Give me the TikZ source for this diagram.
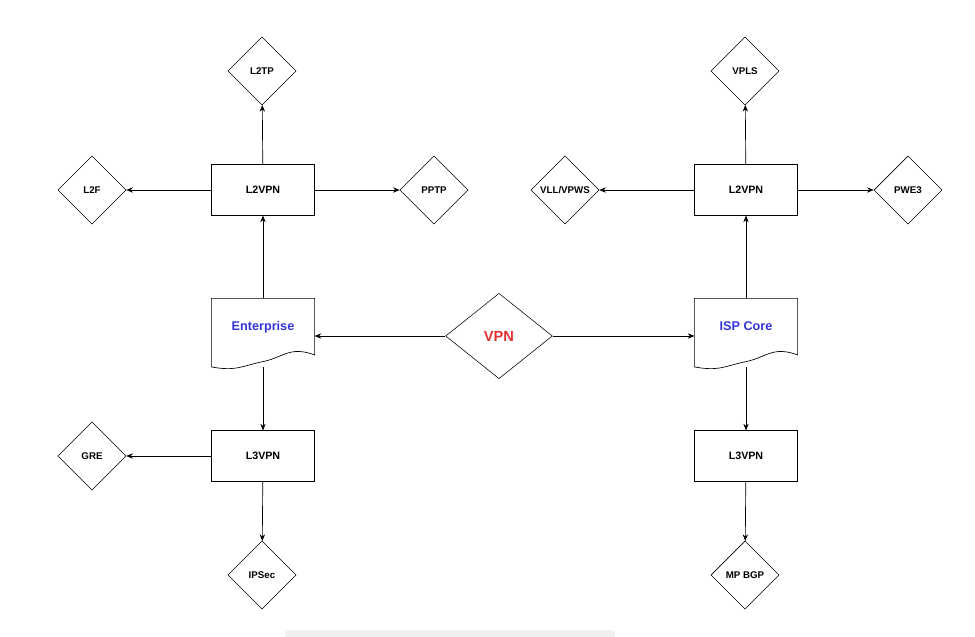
\documentclass[tikz,border=0pt]{standalone}
\usepackage{fontspec}
\setmainfont{Liberation Sans}
\usetikzlibrary{shapes.geometric,arrows.meta}
\definecolor{docblue}{RGB}{51,51,220}
\definecolor{vpnred}{RGB}{228,50,50}
\tikzset{
  box/.style={draw, rectangle, minimum width=77pt, minimum height=38pt, inner sep=0pt, font=\fontsize{8}{9}\selectfont\bfseries},
  dia/.style={draw, diamond, minimum width=51pt, minimum height=51pt, inner sep=0pt, font=\fontsize{7.3}{8}\selectfont\bfseries},
  doc/.style={rectangle, minimum width=77pt, minimum height=47pt, inner sep=0pt, text depth=6pt, text=docblue, font=\fontsize{9.5}{11}\selectfont\bfseries},
  arr/.style={-{Stealth[length=5pt,width=4pt]}, line width=0.5pt}
}
\newcommand{\docshape}[1]{%
\draw[line width=0.5pt] ([yshift=-4]#1.south west) -- (#1.north west) -- (#1.north east) -- ([yshift=5]#1.south east)
  .. controls ([shift={(-25,16)}]#1.south east) and ([shift={(20,4)}]#1.south) .. (#1.south)
  .. controls ([shift={(-20,-4)}]#1.south) and ([shift={(25,-10)}]#1.south west) .. ([yshift=-4]#1.south west);}
\begin{document}
\begin{tikzpicture}[x=0.75pt, y=0.75pt]
\useasboundingbox (0,0) rectangle (975,-636);
\fill[gray!12, rounded corners=3pt] (285,-630) rectangle (615,-640);

% left side
\node[doc] (ent) at (263,-330) {Enterprise};
\docshape{ent}
\node[box] (l2l) at (263,-190) {L2VPN};
\node[box] (l3l) at (263,-456) {L3VPN};
\node[dia] (l2tp) at (262,-71) {L2TP};
\node[dia] (l2f) at (92,-190) {L2F};
\node[dia] (pptp) at (434,-190) {PPTP};
\node[dia] (gre) at (92,-456) {GRE};
\node[dia] (ipsec) at (262,-575) {IPSec};

% right side
\node[doc] (isp) at (746,-330) {ISP Core};
\docshape{isp}
\node[box] (l2r) at (746,-190) {L2VPN};
\node[box] (l3r) at (746,-456) {L3VPN};
\node[dia] (vpls) at (745,-71) {VPLS};
\node[dia] (vll) at (565,-190) {VLL/VPWS};
\node[dia] (pwe) at (908,-190) {PWE3};
\node[dia] (bgp) at (745,-575) {MP BGP};

% centre
\node[draw, diamond, minimum width=80pt, minimum height=64pt, inner sep=0pt, text=vpnred, font=\fontsize{11}{12}\selectfont\bfseries] (vpn) at (499,-336) {VPN};

\draw[arr] (vpn) -- (vpn -| ent.east);
\draw[arr] (vpn) -- (vpn -| isp.west);
\draw[arr] (ent) -- (l2l);
\draw[arr] ([yshift=-4]ent.south) -- (l3l);
\draw[arr] (l2l) -- (l2tp);
\draw[arr] (l2l) -- (l2f);
\draw[arr] (l2l) -- (pptp);
\draw[arr] (l3l) -- (gre);
\draw[arr] (l3l) -- (ipsec);
\draw[arr] (isp) -- (l2r);
\draw[arr] ([yshift=-4]isp.south) -- (l3r);
\draw[arr] (l2r) -- (vpls);
\draw[arr] (l2r) -- (vll);
\draw[arr] (l2r) -- (pwe);
\draw[arr] (l3r) -- (bgp);
\end{tikzpicture}
\end{document}
